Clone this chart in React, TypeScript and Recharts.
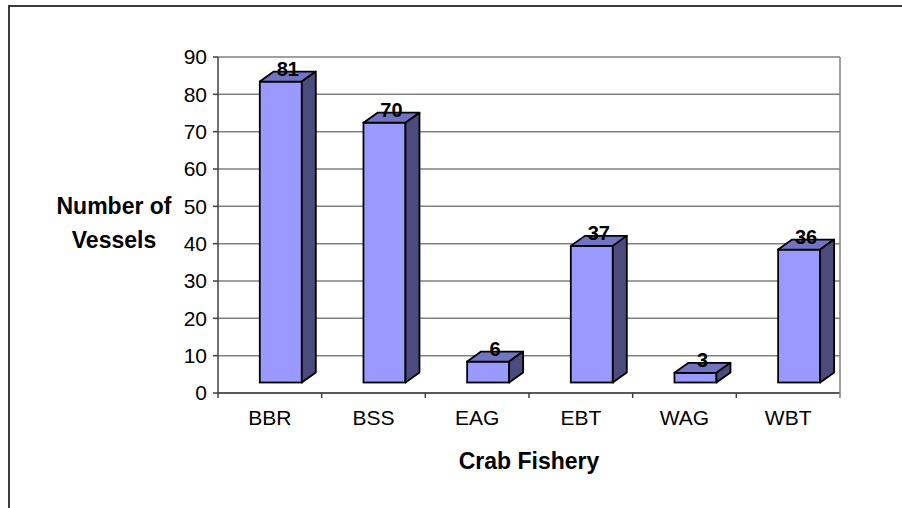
import React from 'react';
import { BarChart, Bar, XAxis, YAxis, CartesianGrid, Label } from 'recharts';

const categories = ['BBR', 'BSS', 'EAG', 'EBT', 'WAG', 'WBT'];
const vessels = [81, 70, 6, 37, 3, 36];
const yTicks = [0, 10, 20, 30, 40, 50, 60, 70, 80, 90];

const data = categories.map((fishery, i) => ({ fishery, vessels: vessels[i] }));

const FONT = '"Liberation Sans", Arial, sans-serif';
const PLOT_LEFT = 218;
const PLOT_RIGHT = 840;
const BAND = (PLOT_RIGHT - PLOT_LEFT) / categories.length;

// depth of the fake 3d box and shift of the front face
const DX = 14;
const DY = 10;
const SHIFT_X = 10.8;

const Box3D = (props: any) => {
  const { x, y, width, height, payload } = props;
  const x0 = x + SHIFT_X;
  const x1 = x0 + width;
  const top = y - 9;
  const bottom = y + height - 10.5;
  return (
    <g>
      <rect x={x0} y={top} width={width} height={bottom - top} fill="#9999FF" stroke="#000" strokeWidth={1.8} />
      <polygon
        points={`${x0},${top} ${x0 + DX},${top - DY} ${x1 + DX},${top - DY} ${x1},${top}`}
        fill="#7373C4"
        stroke="#000"
        strokeWidth={1.8}
        strokeLinejoin="round"
      />
      <polygon
        points={`${x1},${top} ${x1 + DX},${top - DY} ${x1 + DX},${bottom - DY} ${x1},${bottom}`}
        fill="#4B4B7E"
        stroke="#000"
        strokeWidth={1.8}
        strokeLinejoin="round"
      />
      <text
        x={x0 + width / 2 + DX / 2}
        y={top - 5.5}
        textAnchor="middle"
        fontFamily={FONT}
        fontWeight="bold"
        fontSize={20}
        fill="#000"
      >
        {payload.vessels}
      </text>
    </g>
  );
};

const CatTick = (props: any) => {
  const { x, y, payload, index } = props;
  const left = x - BAND / 2;
  const right = x + BAND / 2;
  return (
    <g>
      <line x1={left} x2={left} y1={y - 5} y2={y} stroke="#404040" strokeWidth={1.5} />
      {index === categories.length - 1 && (
        <line x1={right} x2={right} y1={y - 5} y2={y} stroke="#808080" strokeWidth={1.5} />
      )}
      <text x={x} y={y + 27} textAnchor="middle" fontFamily={FONT} fontSize={21} fill="#000">
        {payload.value}
      </text>
    </g>
  );
};

const App = () => (
  <div style={{ position: 'absolute', left: 0, top: 0, width: 902, height: 508, overflow: 'hidden', background: '#fff' }}>
    <div
      style={{
        position: 'absolute',
        left: 8,
        top: 5,
        width: 1000,
        height: 1000,
        border: '2px solid #3c3c3c',
      }}
    />
    <div style={{ position: 'absolute', left: 0, top: 0 }}>
      <BarChart width={902} height={508} data={data} margin={{ top: 57, right: 0, bottom: 0, left: 0 }}>
        <CartesianGrid horizontal vertical={false} stroke="#808080" strokeWidth={1.5} />
        <XAxis
          dataKey="fishery"
          height={115}
          interval={0}
          tickSize={5}
          tickMargin={0}
          tickLine={false}
          axisLine={{ stroke: '#404040', strokeWidth: 1.5 }}
          tick={<CatTick />}
        >
          <Label
            content={(p: any) => (
              <text
                x={p.viewBox.x + p.viewBox.width / 2}
                y={p.viewBox.y + 76}
                textAnchor="middle"
                fontFamily={FONT}
                fontWeight="bold"
                fontSize={23}
                fill="#000"
              >
                Crab Fishery
              </text>
            )}
          />
        </XAxis>
        <YAxis
          domain={[0, 90]}
          ticks={yTicks}
          width={218}
          interval={0}
          tickSize={5}
          tickMargin={6}
          axisLine={{ stroke: '#404040', strokeWidth: 1.5 }}
          tickLine={{ stroke: '#404040', strokeWidth: 1.5 }}
          tick={{ fontFamily: FONT, fontSize: 21, fill: '#000' }}
        >
          <Label
            content={() => (
              <text textAnchor="middle" fontFamily={FONT} fontWeight="bold" fontSize={23} fill="#000">
                <tspan x={114} y={213.5}>Number of</tspan>
                <tspan x={114} y={248}>Vessels</tspan>
              </text>
            )}
          />
        </YAxis>
        <YAxis
          yAxisId="wall"
          orientation="right"
          width={62}
          tick={false}
          tickLine={false}
          axisLine={{ stroke: '#808080', strokeWidth: 1.5 }}
        />
        <Bar dataKey="vessels" barSize={42} isAnimationActive={false} shape={Box3D} />
      </BarChart>
    </div>
  </div>
);

export default App;
